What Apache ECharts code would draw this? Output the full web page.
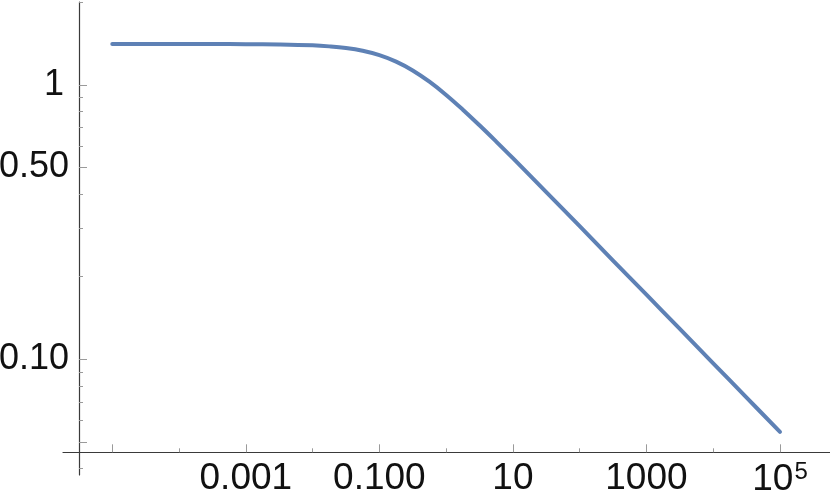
<!DOCTYPE html>
<html><head><meta charset="utf-8">
<script src="https://cdn.jsdelivr.net/npm/echarts@6/dist/echarts.min.js"></script>
<style>html,body{margin:0;padding:0;background:#fff}#c{width:830px;height:503px}</style>
</head><body><div id="c"></div>
<script>
// curve (x, y in data units)
const xValues = [1e-5, 3.16e-5, 1e-4, 3.16e-4, 1e-3, 3.16e-3, 1e-2, 1.78e-2, 3.16e-2, 5.62e-2,
  0.1, 0.178, 0.316, 0.562, 1, 1.78, 3.16, 5.62, 10, 31.6, 100, 316, 1000, 3162, 1e4, 31623, 1e5];
const yValues = [1.410, 1.410, 1.410, 1.410, 1.409, 1.405, 1.395, 1.383, 1.364, 1.333,
  1.285, 1.217, 1.130, 1.028, 0.920, 0.813, 0.713, 0.622, 0.541, 0.407, 0.306, 0.229, 0.172, 0.129, 0.0967, 0.0725, 0.0544];

// ticks and labels
const xMajorTicks = [1e-5, 1e-3, 1e-1, 1e1, 1e3, 1e5];
const xMinorTicks = [1e-4, 1e-2, 1, 1e2, 1e4];
const xLabelValues = [1e-3, 1e-1, 10, 1000, 1e5];
const xTickLabels = ['0.001', '0.100', '10', '1000', '10^5'];
const yMajorTicks = [0.05, 0.1, 0.5, 1];
const yMinorTicks = [0.04, 0.06, 0.07, 0.08, 0.09, 0.2, 0.3, 0.4, 0.6, 0.7, 0.8, 0.9, 2];
const yLabelValues = [0.1, 0.5, 1];
const yTickLabels = ['0.10', '0.50', '1'];

// plot range (log10)
const xLogRange = [-5.738, 5.749];
const yLogRange = [-1.4218, 0.3026];

const L = v => Math.log10(v);
const FONT = "'Liberation Sans', Arial, sans-serif";
const near = (a, b) => Math.abs(a - b) < 1e-6;

function xFmt(v) {
  const i = xLabelValues.findIndex(t => near(L(t), v));
  if (i < 0) return '';
  const s = xTickLabels[i];
  if (s.indexOf('^') >= 0) {
    const p = s.split('^');
    return '{b|' + p[0] + '}{sup|' + p[1] + '}';
  }
  return '{b|' + s + '}';
}
function yFmt(v) {
  const i = yLabelValues.findIndex(t => near(L(t), v));
  if (i < 0) return '';
  const s = yTickLabels[i];
  return s.length === 1 ? '{one|' + s + '}' : '{b|' + s + '}';
}

const axisColor = '#3a3a3a';
const tickColor = '#9a9a9a';
const FSX = 37;
const FSY = 36;
const baseX = {
  type: 'value', position: 'bottom', gridIndex: 0,
  min: xLogRange[0], max: xLogRange[1], offset: -22.7,
  splitLine: { show: false }
};
const baseY = {
  type: 'value', position: 'left', gridIndex: 0,
  min: yLogRange[0], max: yLogRange[1], offset: -16,
  splitLine: { show: false }
};

const option = {
  animation: false,
  backgroundColor: '#fff',
  grid: { left: 63, right: 0, top: 2, bottom: 28, containLabel: false, outerBoundsMode: 'none' },
  xAxis: [
    Object.assign({}, baseX, {
      axisLine: { show: true, onZero: false, lineStyle: { color: axisColor, width: 1.2 } },
      axisTick: { show: true, inside: true, length: 8, lineStyle: { color: tickColor, width: 1 },
        customValues: xMajorTicks.map(L) },
      axisLabel: { show: true, margin: 8, customValues: xLabelValues.map(L), formatter: xFmt,
        rich: {
          b: { fontSize: FSX, fontFamily: FONT, color: '#111' },
          sup: { fontSize: 24, fontFamily: FONT, color: '#111', verticalAlign: 'top', padding: [0, 0, 14, 1] }
        } }
    }),
    Object.assign({}, baseX, {
      axisLine: { show: false, onZero: false },
      axisTick: { show: true, inside: true, length: 4, lineStyle: { color: tickColor, width: 1 },
        customValues: xMinorTicks.map(L) },
      axisLabel: { show: false }
    })
  ],
  yAxis: [
    Object.assign({}, baseY, {
      axisLine: { show: true, onZero: false, lineStyle: { color: axisColor, width: 1.2 } },
      axisTick: { show: true, inside: true, length: 8, lineStyle: { color: tickColor, width: 1 },
        customValues: yMajorTicks.map(L) },
      axisLabel: { show: true, margin: 10, customValues: yLabelValues.map(L), formatter: yFmt,
        rich: {
          b: { fontSize: FSY, fontFamily: FONT, color: '#111' },
          one: { fontSize: FSY, fontFamily: FONT, color: '#111', padding: [0, 5, 0, 0] }
        } }
    }),
    Object.assign({}, baseY, {
      axisLine: { show: false, onZero: false },
      axisTick: { show: true, inside: true, length: 4, lineStyle: { color: tickColor, width: 1 },
        customValues: yMinorTicks.map(L) },
      axisLabel: { show: false }
    })
  ],
  series: [{
    type: 'line',
    xAxisIndex: 0, yAxisIndex: 0,
    data: xValues.map((x, i) => [L(x), L(yValues[i])]),
    showSymbol: false,
    smooth: 0.4,
    lineStyle: { color: '#5E81B5', width: 4, cap: 'round', join: 'round' },
    clip: false
  }]
};
const chart = echarts.init(document.getElementById('c'), null, { renderer: 'canvas' });
chart.setOption(option);
</script>
</body></html>
